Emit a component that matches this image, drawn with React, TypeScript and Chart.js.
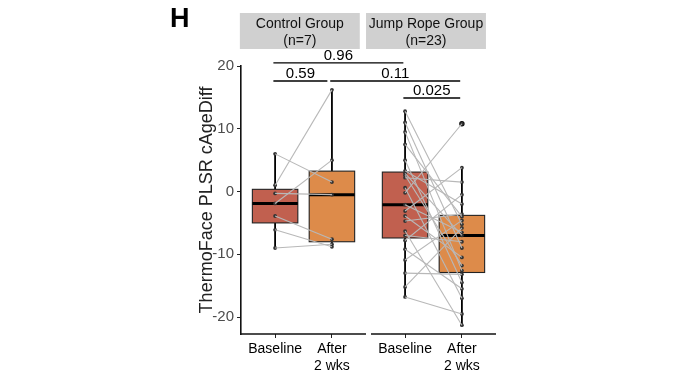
import React, { useEffect, useRef } from 'react';
import { Chart, registerables } from 'chart.js';
Chart.register(...registerables);

// ---------- data ----------
const panelTitles = ['Control Group', 'Jump Rope Group'];
const panelSizes = ['(n=7)', '(n=23)'];
const timeLabels: (string | string[])[] = ['Baseline', ['After', '2 wks']];
const yTicks = [-20, -10, 0, 10, 20];

const controlBaseline = [6.0, 1.0, -1.9, -0.3, -3.9, -6.1, -9.0];
const controlAfter = [1.5, 16.2, 5.0, -0.5, -7.6, -8.8, -8.4];

const jumpBaseline = [12.8, 11.0, 9.5, 7.5, 5.0, 3.3, 2.9, 2.6, 2.2, 0.6, -0.2, -2.1, -3.1, -3.9, -4.7, -6.3, -7.0, -7.8, -9.2, -10.9, -13.0, -15.2, -16.8];
const jumpAfter = [-5.2, -9.0, -12.6, -4.0, -14.5, -2.0, -7.0, -11.8, 1.5, -17.0, 10.8, -6.5, 3.8, -10.5, -3.6, -21.3, -8.0, -0.5, -15.5, -4.6, -13.2, -5.8, -19.5];

const pLabels = ['0.96', '0.59', '0.11', '0.025'];
const pFrom = [0, 0, 1, 2];
const pTo = [2, 1, 3, 3];
const pLevel = [20.5, 17.6, 17.6, 14.9];

// ---------- layout / style ----------
const xPos = [1, 2, 3.287, 4.287];
const panelRanges = [[0.4, 2.6], [2.687, 4.887]];
const stripRanges = [[0.38, 2.49], [2.6, 4.71]];
const boxColors = ['#C1604F', '#DD8B4A'];
const FONT = '"Liberation Sans", Arial, Helvetica, sans-serif';

const seriesList = [controlBaseline, controlAfter, jumpBaseline, jumpAfter];

function quantile(sorted: number[], p: number) {
  const h = (sorted.length - 1) * p;
  const lo = Math.floor(h);
  const hi = Math.ceil(h);
  return sorted[lo] + (sorted[hi] - sorted[lo]) * (h - lo);
}
function stats(vals: number[]) {
  const s = [...vals].sort((a, b) => a - b);
  const q1 = quantile(s, 0.25), med = quantile(s, 0.5), q3 = quantile(s, 0.75);
  const iqr = q3 - q1;
  const lf = q1 - 1.5 * iqr, uf = q3 + 1.5 * iqr;
  const inside = s.filter(v => v >= lf && v <= uf);
  return { q1, med, q3, lo: inside[0], hi: inside[inside.length - 1], out: s.filter(v => v < lf || v > uf) };
}

const boxPlugin = {
  id: 'boxes',
  beforeDatasetsDraw(chart: any) {
    const { ctx, scales } = chart;
    const x = scales.x, y = scales.y;
    const half = 0.4;
    seriesList.forEach((vals, i) => {
      const st = stats(vals);
      const cx = x.getPixelForValue(xPos[i]);
      const l = x.getPixelForValue(xPos[i] - half);
      const r = x.getPixelForValue(xPos[i] + half);
      ctx.save();
      ctx.strokeStyle = '#000';
      ctx.lineWidth = 1.8;
      ctx.beginPath();
      ctx.moveTo(cx, y.getPixelForValue(st.hi));
      ctx.lineTo(cx, y.getPixelForValue(st.q3));
      ctx.moveTo(cx, y.getPixelForValue(st.q1));
      ctx.lineTo(cx, y.getPixelForValue(st.lo));
      ctx.stroke();
      const top = y.getPixelForValue(st.q3), bot = y.getPixelForValue(st.q1);
      ctx.fillStyle = boxColors[i % 2];
      ctx.fillRect(l, top, r - l, bot - top);
      ctx.lineWidth = 1.1;
      ctx.strokeStyle = '#222';
      ctx.strokeRect(l, top, r - l, bot - top);
      ctx.lineWidth = 3;
      ctx.strokeStyle = '#000';
      ctx.beginPath();
      const m = y.getPixelForValue(st.med);
      ctx.moveTo(l, m);
      ctx.lineTo(r, m);
      ctx.stroke();
      ctx.restore();
    });
  },
  afterDraw(chart: any) {
    const { ctx, scales, chartArea } = chart;
    const x = scales.x, y = scales.y;
    ctx.save();
    // bottom axis segments per panel
    ctx.strokeStyle = '#111';
    ctx.lineWidth = 1.6;
    panelRanges.forEach((pr, i) => {
      ctx.beginPath();
      ctx.moveTo(i === 0 ? chartArea.left - 0.8 : x.getPixelForValue(pr[0]), chartArea.bottom);
      ctx.lineTo(x.getPixelForValue(pr[1]), chartArea.bottom);
      ctx.stroke();
    });
    // strips
    stripRanges.forEach((sr, i) => {
      const l = x.getPixelForValue(sr[0]), r = x.getPixelForValue(sr[1]);
      ctx.fillStyle = '#d0d0d0';
      ctx.fillRect(l, 13, r - l, 36);
      ctx.fillStyle = '#111';
      ctx.font = `14px ${FONT}`;
      ctx.textAlign = 'center';
      ctx.textBaseline = 'middle';
      ctx.fillText(panelTitles[i], (l + r) / 2, 24);
      ctx.fillText(panelSizes[i], (l + r) / 2, 41);
    });
    // significance brackets
    pLabels.forEach((lab, i) => {
      const a = x.getPixelForValue(xPos[pFrom[i]] - 0.03);
      const b = x.getPixelForValue(xPos[pTo[i]] - (pTo[i] === 1 ? 0.08 : 0.03));
      const yy = y.getPixelForValue(pLevel[i]);
      ctx.strokeStyle = '#000';
      ctx.lineWidth = 1.4;
      ctx.beginPath();
      ctx.moveTo(a, yy);
      ctx.lineTo(b, yy);
      ctx.stroke();
      ctx.fillStyle = '#000';
      ctx.font = `15px ${FONT}`;
      ctx.textAlign = 'center';
      ctx.textBaseline = 'alphabetic';
      ctx.fillText(lab, (a + b) / 2, yy - 3);
    });
    // panel tag
    ctx.fillStyle = '#000';
    ctx.font = `bold 27px ${FONT}`;
    ctx.textAlign = 'left';
    ctx.textBaseline = 'alphabetic';
    ctx.fillText('H', 170, 27);
    ctx.restore();
  },
};

export default function App() {
  const ref = useRef<HTMLCanvasElement>(null);
  useEffect(() => {
    if (!ref.current) return;
    const datasets: any[] = [];
    // paired lines
    for (let g = 0; g < 2; g++) {
      const b = seriesList[2 * g], a = seriesList[2 * g + 1];
      b.forEach((v, i) => {
        datasets.push({
          data: [{ x: xPos[2 * g], y: v }, { x: xPos[2 * g + 1], y: a[i] }],
          showLine: true,
          borderColor: '#b8b8b8',
          borderWidth: 1.1,
          pointRadius: 0,
        });
      });
    }
    // points
    seriesList.forEach((vals, i) => {
      datasets.push({
        data: vals.map(v => ({ x: xPos[i], y: v })),
        pointRadius: 1.9,
        backgroundColor: '#333',
        borderWidth: 0,
      });
      const st = stats(vals);
      if (st.out.length) {
        datasets.push({
          data: st.out.map(v => ({ x: xPos[i], y: v })),
          pointRadius: 2.7,
          backgroundColor: '#000',
          borderWidth: 0,
        });
      }
    });

    const chart = new Chart(ref.current, {
      type: 'scatter',
      data: { datasets },
      plugins: [boxPlugin],
      options: {
        animation: false,
        responsive: false,
        devicePixelRatio: 1,
        layout: { padding: { left: 192, right: 193, top: 66, bottom: 0 } },
        plugins: { legend: { display: false }, tooltip: { enabled: false } },
        scales: {
          x: {
            type: 'linear',
            min: 0.4,
            max: 4.887,
            afterBuildTicks: (s: any) => { s.ticks = xPos.map(v => ({ value: v })); },
            afterFit: (s: any) => { s.height = 54; },
            ticks: {
              callback: (_v: any, i: number) => timeLabels[i % 2],
              font: { size: 14, family: FONT },
              color: '#000',
              padding: 3,
              maxRotation: 0,
              autoSkip: false,
            },
            grid: { drawOnChartArea: false, tickLength: 4, color: '#222', lineWidth: 1 },
            border: { display: false },
          },
          y: {
            type: 'linear',
            min: -22.7,
            max: 20,
            afterBuildTicks: (s: any) => { s.ticks = yTicks.map(v => ({ value: v })); },
            afterFit: (s: any) => { s.width = 49; },
            ticks: { font: { size: 15, family: FONT }, color: '#4d4d4d', padding: 3 },
            grid: { drawOnChartArea: false, tickLength: 4, color: '#222', lineWidth: 1 },
            border: { display: true, color: '#111', width: 1.6 },
            title: {
              display: true,
              text: 'ThermoFace PLSR cAgeDiff',
              font: { size: 18, family: FONT },
              color: '#222',
              padding: { top: 4, bottom: 0 },
            },
          },
        },
      },
    });
    return () => chart.destroy();
  }, []);
  return (
    <div style={{ position: 'fixed', left: 0, top: 0, width: 689, height: 388, background: '#fff' }}>
      <canvas ref={ref} width={689} height={388} style={{ width: 689, height: 388, display: 'block' }} />
    </div>
  );
}
